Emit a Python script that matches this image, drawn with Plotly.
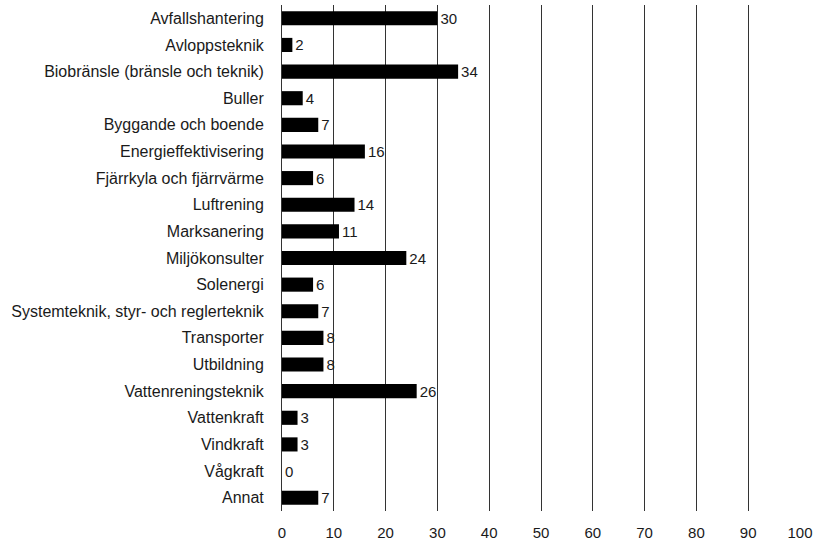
import plotly.graph_objects as go

categories = [
    "Avfallshantering", "Avloppsteknik", "Biobränsle (bränsle och teknik)", "Buller",
    "Byggande och boende", "Energieffektivisering", "Fjärrkyla och fjärrvärme",
    "Luftrening", "Marksanering", "Miljökonsulter", "Solenergi",
    "Systemteknik, styr- och reglerteknik", "Transporter", "Utbildning",
    "Vattenreningsteknik", "Vattenkraft", "Vindkraft", "Vågkraft", "Annat",
]
values = [30, 2, 34, 4, 7, 16, 6, 14, 11, 24, 6, 7, 8, 8, 26, 3, 3, 0, 7]
x_ticks = [0, 10, 20, 30, 40, 50, 60, 70, 80, 90, 100]

FONT = "Liberation Sans, Arial, Helvetica, sans-serif"

fig = go.Figure(go.Bar(
    x=values, y=categories, orientation="h",
    marker=dict(color="#000000", line=dict(width=0)),
    width=0.53,
    text=[str(v) for v in values], textposition="outside",
    constraintext="none",
    textfont=dict(family=FONT, size=15, color="#1a1a1a"),
    cliponaxis=False,
))

fig.update_layout(
    width=816, height=542,
    margin=dict(l=282, r=16, t=5, b=31, autoexpand=False),
    paper_bgcolor="white", plot_bgcolor="white",
    font=dict(family=FONT, size=15, color="#1a1a1a"),
    showlegend=False,
    bargap=0.47,
)
fig.update_xaxes(
    range=[0, 100], tickvals=x_ticks, ticktext=[str(t) for t in x_ticks],
    showgrid=True, gridcolor="#333333", gridwidth=1,
    zeroline=False, showline=False,
    ticks="outside", ticklen=8, tickcolor="rgba(0,0,0,0)",
    tickfont=dict(family=FONT, size=15, color="#1a1a1a"),
    fixedrange=True, automargin=False,
)
fig.update_yaxes(
    categoryorder="array", categoryarray=categories, autorange="reversed",
    showgrid=False, zeroline=False, showline=True, linecolor="#333333", linewidth=1,
    ticks="outside", ticklen=14, tickcolor="rgba(0,0,0,0)",
    tickfont=dict(family=FONT, size=16, color="#1a1a1a"),
    fixedrange=True, automargin=False,
)

fig.write_html(
    "out.html",
    config={"displayModeBar": False},
    post_script="document.body.style.margin='0';document.body.style.padding='0';",
)
